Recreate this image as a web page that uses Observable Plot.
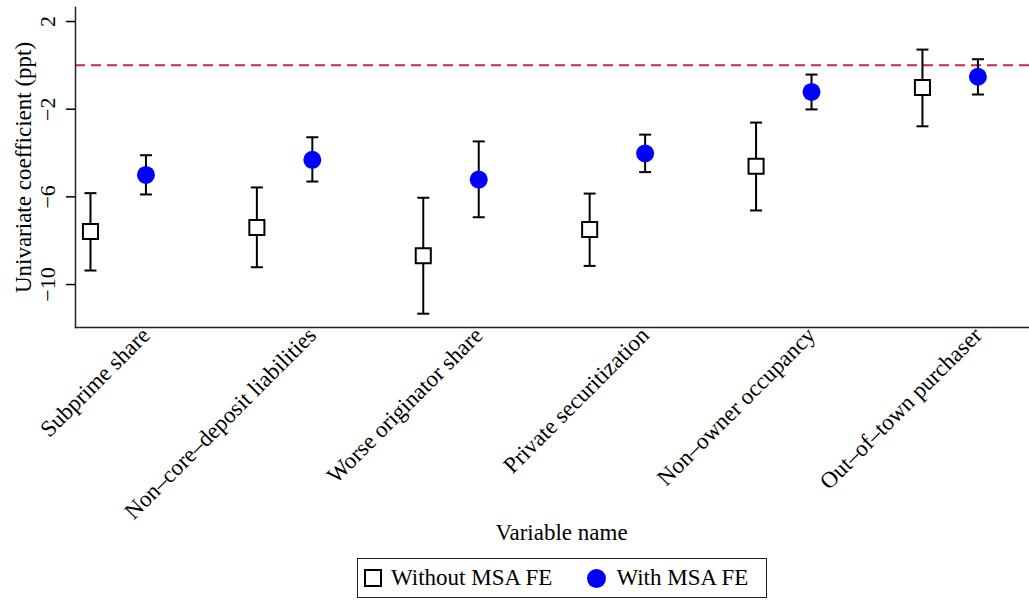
<!DOCTYPE html>
<html>
<head>
<meta charset="utf-8">
<script src="https://cdn.jsdelivr.net/npm/d3@7"></script>
<script src="https://cdn.jsdelivr.net/npm/@observablehq/plot@0.6"></script>
<style>
  body { margin: 0; background: #fff; font-family: "Liberation Serif", "Times New Roman", Tinos, "DejaVu Serif", serif; }
  #wrap { position: relative; width: 1029px; height: 603px; overflow: hidden; }
  #legend {
    position: absolute; left: 357px; top: 558px; width: 408px; height: 38px;
    border: 1.3px solid #222; display: flex; align-items: center;
    font-size: 23px; color: #000; box-sizing: content-box;
  }
  #legend svg { display: block; flex: none; }
  #chart svg text { font-family: "Liberation Serif", "Times New Roman", Tinos, "DejaVu Serif", serif; }
</style>
</head>
<body>
<div id="wrap">
  <div id="chart"></div>
  <div id="legend"></div>
</div>
<script>
// ---- data ----
const categories = [
  "Subprime share",
  "Non–core–deposit liabilities",
  "Worse originator share",
  "Private securitization",
  "Non–owner occupancy",
  "Out–of–town purchaser"
];
const seriesNames = ["Without MSA FE", "With MSA FE"];
const withoutCoef = [-7.58, -7.40, -8.69, -7.49, -4.60, -1.01];
const withoutLo   = [-9.36, -9.21, -11.33, -9.15, -6.62, -2.78];
const withoutHi   = [-5.83, -5.57, -6.04, -5.85, -2.61, 0.72];
const withCoef    = [-5.00, -4.31, -5.21, -4.02, -1.21, -0.52];
const withLo      = [-5.89, -5.30, -6.93, -4.87, -2.01, -1.33];
const withHi      = [-4.10, -3.28, -3.47, -3.16, -0.42, 0.28];
const yTicks = [2, -2, -6, -10];
const refValue = 0;

// ---- table ----
const rows = categories.flatMap((c, i) => [
  {cat: c, series: seriesNames[0], pos: i * 3 + 1, coef: withoutCoef[i], lo: withoutLo[i], hi: withoutHi[i]},
  {cat: c, series: seriesNames[1], pos: i * 3 + 2, coef: withCoef[i], lo: withLo[i], hi: withHi[i]}
]);
const labelPos = categories.map((c, i) => i * 3 + 2);

const cap = {draw(ctx, size) { const w = Math.sqrt(size / Math.PI); ctx.moveTo(-w, 0); ctx.lineTo(w, 0); }};
const fmt = d => (d < 0 ? "\u2212" + Math.abs(d) : String(d));
const serif = '"Liberation Serif", "Times New Roman", Tinos, "DejaVu Serif", serif';

const chart = Plot.plot({
  width: 1029,
  height: 553,
  marginLeft: 75,
  marginRight: 0,
  marginTop: 7,
  marginBottom: 226,
  style: {fontFamily: serif, fontSize: "23px", background: "white", color: "black"},
  x: {type: "linear", domain: [0.73, 17.93]},
  y: {domain: [-11.96, 2.64]},
  marks: [
    Plot.ruleY([refValue], {stroke: "#c8264f", strokeWidth: 2, strokeDasharray: "10,6"}),
    Plot.frame({anchor: "left", stroke: "#222", strokeWidth: 1.5}),
    Plot.frame({anchor: "bottom", stroke: "#222", strokeWidth: 1.5}),
    Plot.axisY({ticks: yTicks, tickSize: 9, tickRotate: -90, tickPadding: 12, tickFormat: fmt, label: null, strokeWidth: 1.5, fontSize: 22}),
    Plot.axisX({ticks: labelPos, tickFormat: v => categories[Math.round((v - 2) / 3)], tickRotate: -45, tickSize: 0, tickPadding: 4, label: null}),
    Plot.ruleX(rows, {x: "pos", y1: "lo", y2: "hi", stroke: "black", strokeWidth: 2}),
    Plot.dot(rows, {x: "pos", y: "lo", symbol: cap, r: 6, stroke: "black", strokeWidth: 2, fill: "none"}),
    Plot.dot(rows, {x: "pos", y: "hi", symbol: cap, r: 6, stroke: "black", strokeWidth: 2, fill: "none"}),
    Plot.dot(rows.filter(d => d.series === seriesNames[0]), {x: "pos", y: "coef", symbol: "square", r: 8.5, fill: "white", stroke: "black", strokeWidth: 2}),
    Plot.dot(rows.filter(d => d.series === seriesNames[1]), {x: "pos", y: "coef", r: 9, fill: "#0000ff", stroke: "none"}),
    Plot.text(["Univariate coefficient (ppt)"], {text: d => d, frameAnchor: "left", dx: -52, rotate: -90, textAnchor: "middle", lineAnchor: "middle", fill: "black"}),
    Plot.text(["Variable name"], {text: d => d, frameAnchor: "bottom", dx: 9, dy: 212, textAnchor: "middle", lineAnchor: "bottom", fill: "black"})
  ]
});
document.getElementById("chart").appendChild(chart);

// ---- legend ----
const legend = document.getElementById("legend");
legend.innerHTML = `
  <svg width="18" height="18" style="margin-left:6px"><rect x="1" y="1" width="16" height="16" fill="white" stroke="black" stroke-width="2"/></svg>
  <span style="margin-left:9px">${seriesNames[0]}</span>
  <svg width="19" height="19" style="margin-left:35px"><circle cx="9.5" cy="9.5" r="9.5" fill="#0000ff"/></svg>
  <span style="margin-left:10px">${seriesNames[1]}</span>`;
</script>
</body>
</html>
